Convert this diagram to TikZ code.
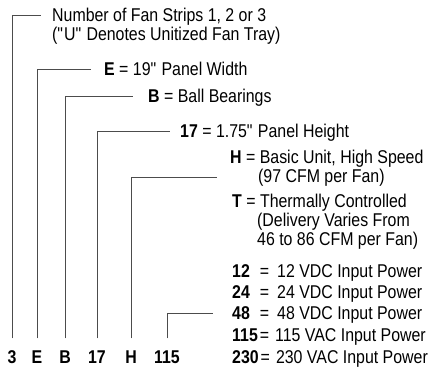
\documentclass[tikz,border=0pt]{standalone}
\usepackage{fontspec}
\setmainfont{Liberation Sans}[FakeStretch=0.86]
\usetikzlibrary{positioning}

\tikzset{
    desc/.style={anchor=west, inner sep=0pt, text height=12.7pt, text depth=0pt,
        font=\fontsize{18.5}{22}\selectfont},
    code/.style={inner sep=0pt, text height=12.7pt, text depth=0pt,
        font=\fontsize{18.5}{22}\selectfont\bfseries},
    lead/.style={draw=black!70, line width=0.9pt, shorten <=12pt},
}
\newcommand{\qt}{\textquotedbl}

\begin{document}
\begin{tikzpicture}[x=1pt, y=-1pt]
    \path[fill=white, use as bounding box] (0,0) rectangle (429,369);

    % Descriptions
    \node[desc] (d3a) at (52,15) {Number of Fan Strips 1, 2 or 3};
    \node[desc] (d3b) at (52,34) {(\qt U\qt\ Denotes Unitized Fan Tray)};
    \node[desc] (dE) at (104,69) {\textbf{E} = 19\qt\ Panel Width};
    \node[desc] (dB) at (148,96) {\textbf{B} = Ball Bearings};
    \node[desc] (d17) at (180,131) {\textbf{17} = 1.75\qt\ Panel Height};
    \node[desc] (dHa) at (230,157) {\textbf{H} = Basic Unit, High Speed};
    \node[desc] (dHb) at (258,176) {(97 CFM per Fan)};
    \node[desc] (dTa) at (232,201) {\textbf{T} = Thermally Controlled};
    \node[desc] (dTb) at (257,220) {(Delivery Varies From};
    \node[desc] (dTc) at (257,239) {46 to 86 CFM per Fan)};
    \node[desc] (d12) at (232,271) {\textbf{12}\hspace{10pt}=\hspace{8pt}12 VDC Input Power};
    \node[desc] (d24) at (232,292) {\textbf{24}\hspace{10pt}=\hspace{8pt}24 VDC Input Power};
    \node[desc] (d48) at (232,313) {\textbf{48}\hspace{10pt}=\hspace{8pt}48 VDC Input Power};
    \node[desc] (d115) at (232,335) {\textbf{115}\hspace{2pt}=\hspace{6pt}115 VAC Input Power};
    \node[desc] (d230) at (232,357) {\textbf{230}\hspace{2pt}=\hspace{6pt}230 VAC Input Power};

    % Model number
    \node[code] (c3) at (12,357) {3};
    \node[code] (cE) at (37,357) {E};
    \node[code] (cB) at (65,357) {B};
    \node[code] (c17) at (97,357) {17};
    \node[code] (cH) at (131,357) {H};
    \node[code] (c115) at (167,357) {115};

    % Leaders
    \coordinate (hEnd) at (217,177);
    \draw[lead] (c3.north) |- ([xshift=-11pt]d3a.west);
    \draw[lead] (cE.north) |- ([xshift=-13pt]dE.west);
    \draw[lead] (cB.north) |- ([xshift=-15pt]dB.west);
    \draw[lead] (c17.north) |- ([xshift=-10pt]d17.west);
    \draw[lead] (cH.north) |- (hEnd);
    \draw[lead] (c115.north) |- ([xshift=-19pt]d48.west);
\end{tikzpicture}
\end{document}
